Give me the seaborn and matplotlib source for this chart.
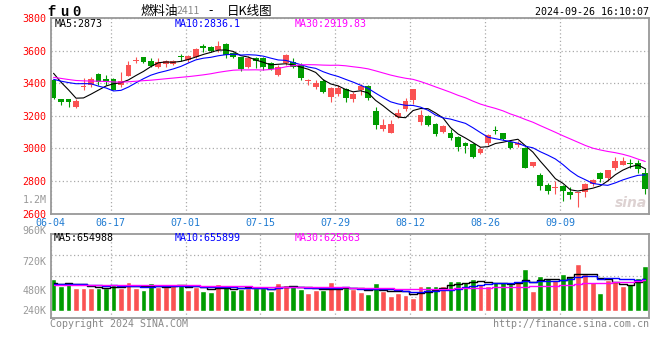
import numpy as np
import pandas as pd
import matplotlib
matplotlib.use("Agg")
import matplotlib.pyplot as plt
import seaborn as sns

# trading days 2024-06-04 .. 2024-09-26 (exchange holidays removed)
holidays = ["2024-06-10", "2024-09-16", "2024-09-17"]
days = pd.bdate_range("2024-06-04", "2024-09-26")
days = days[~days.isin(pd.to_datetime(holidays))]
tick_dates = ["06-04", "06-17", "07-01", "07-15", "07-29", "08-12", "08-26", "09-09"]

open_ = [3421, 3305, 3305, 3256, 3380, 3391, 3458, 3425, 3425, 3391,
         3448, 3540, 3560, 3537, 3503, 3519, 3519, 3570, 3544, 3564,
         3632, 3623, 3605, 3643, 3585, 3560, 3503, 3554, 3554, 3523,
         3452, 3523, 3533, 3513, 3413, 3376, 3417, 3317, 3333, 3364,
         3303, 3360, 3382, 3229, 3119, 3096, 3194, 3241, 3297, 3160,
         3199, 3149, 3102, 3096, 3068, 3035, 3027, 2974, 3031, 3116,
         3092, 3041, 3021, 3004, 2894, 2837, 2776, 2757, 2766, 2735,
         2725, 2735, 2780, 2851, 2817, 2878, 2898, 2911, 2913, 2851]
close = [3309, 3285, 3283, 3290, 3385, 3425, 3411, 3407, 3360, 3415,
         3513, 3546, 3533, 3509, 3533, 3537, 3537, 3560, 3568, 3609,
         3615, 3601, 3629, 3572, 3564, 3486, 3558, 3537, 3503, 3486,
         3503, 3574, 3503, 3435, 3419, 3405, 3350, 3374, 3374, 3309,
         3333, 3383, 3309, 3143, 3143, 3149, 3219, 3290, 3364, 3205,
         3143, 3088, 3137, 3066, 3011, 3017, 2949, 2994, 3082, 3110,
         3055, 3000, 3035, 2882, 2915, 2772, 2741, 2760, 2741, 2714,
         2735, 2782, 2806, 2812, 2868, 2923, 2923, 2908, 2872, 2749]
high = [3425, 3305, 3305, 3305, 3430, 3437, 3462, 3452, 3431, 3472,
        3538, 3564, 3564, 3554, 3558, 3544, 3544, 3578, 3574, 3615,
        3642, 3629, 3660, 3648, 3595, 3564, 3570, 3560, 3564, 3529,
        3513, 3580, 3554, 3523, 3427, 3421, 3425, 3380, 3391, 3370,
        3348, 3395, 3388, 3252, 3178, 3174, 3245, 3307, 3368, 3235,
        3205, 3158, 3143, 3119, 3076, 3041, 3035, 3007, 3088, 3137,
        3096, 3047, 3047, 3011, 2919, 2851, 2790, 2800, 2776, 2761,
        2735, 2786, 2813, 2855, 2868, 2945, 2945, 2933, 2929, 2878]
low = [3305, 3268, 3252, 3248, 3362, 3380, 3390, 3390, 3358, 3380,
       3448, 3523, 3523, 3503, 3497, 3499, 3513, 3537, 3533, 3554,
       3595, 3595, 3595, 3558, 3554, 3476, 3497, 3493, 3482, 3482,
       3448, 3513, 3497, 3421, 3391, 3366, 3339, 3288, 3325, 3288,
       3286, 3329, 3298, 3119, 3107, 3096, 3190, 3231, 3276, 3143,
       3139, 3076, 3096, 3051, 2986, 2970, 2939, 2966, 3021, 3086,
       3051, 2994, 3011, 2878, 2888, 2745, 2718, 2718, 2674, 2688,
       2637, 2700, 2770, 2796, 2802, 2868, 2898, 2878, 2847, 2718]
# volume in thousands of lots
volume = [655, 516, 579, 475, 475, 462, 475, 475, 531, 475,
          599, 475, 434, 579, 483, 483, 558, 531, 434, 496,
          407, 393, 558, 496, 427, 455, 475, 475, 468, 407,
          579, 531, 510, 455, 372, 427, 427, 599, 461, 461,
          441, 386, 345, 571, 406, 310, 372, 324, 261, 510,
          510, 510, 510, 612, 612, 592, 654, 551, 516, 592,
          592, 551, 592, 860, 413, 716, 675, 634, 757, 716,
          964, 757, 592, 365, 634, 612, 510, 551, 675, 923]
# estimated closes / volumes before 06-04 (only feed the moving averages at the left edge)
prior_close = [3480, 3490, 3468, 3452, 3460, 3445, 3458, 3447, 3440, 3452,
               3446, 3430, 3418, 3405, 3398, 3410, 3425, 3440, 3452, 3445,
               3400, 3370, 3360, 3380, 3430, 3560, 3518, 3545, 3378]
prior_volume = [520, 540, 495, 510, 530, 505, 488, 525, 515, 500,
                540, 512, 498, 530, 505, 520, 510, 535, 492, 520,
                560, 525, 548, 530, 542, 585, 540, 520, 555]

title_parts = ["燃料油", "2411", "-", "日K线图"]
symbol = "fu0"
price_ma_text = ["MA5:2873", "MA10:2836.1", "MA30:2919.83"]
vol_ma_text = ["MA5:654988", "MA10:655899", "MA30:625663"]
price_ticks = [2600, 2800, 3000, 3200, 3400, 3600, 3800]
vol_labels = ["1.2M", "960K", "720K", "480K", "240K"]

RED = "#fa5252"
GREEN = "#009c00"
BLUE = "#1f7bd2"
GRID = "#aaaaaa"
FRAME = "#999999"
MA_COLORS = ["black", "#0000ff", "#ff00ff"]

sns.set_theme(style="white")
plt.rcParams["font.family"] = ["DejaVu Sans Mono", "Noto Sans CJK SC"]

o = np.array(open_, float)
c = np.array(close, float)
n = len(c)
x = np.arange(n)
up = c >= o
colors = np.where(up, RED, GREEN)

all_close = pd.Series(prior_close + close, dtype=float)
all_vol = pd.Series(prior_volume + volume, dtype=float)
price_ma = [all_close.rolling(w).mean().to_numpy()[-n:] for w in (5, 10, 30)]
vol_ma = [all_vol.rolling(w).mean().to_numpy()[-n:] for w in (5, 10, 30)]

fig = plt.figure(figsize=(6.6, 3.6), dpi=100)
ax1 = fig.add_axes([50.7 / 660, 1 - 213.5 / 360, 598.3 / 660, 195.2 / 360])
ax2 = fig.add_axes([50.7 / 660, 1 - 317.7 / 360, 598.3 / 660, 83.4 / 360])

# candles
ax1.vlines(x, low, high, colors=colors, lw=0.8, zorder=2)
diff = np.abs(c - o)
bottom = np.where(diff < 6, (o + c) / 2 - 3, np.minimum(o, c))
ax1.bar(x, np.maximum(diff, 6), bottom=bottom, width=0.78, color=colors, lw=0, zorder=2)
for ma, col in zip(price_ma, MA_COLORS):
    sns.lineplot(x=x, y=ma, ax=ax1, color=col, lw=0.8, estimator=None, zorder=3)

# volume
vdf = pd.DataFrame({"x": x, "vol": volume, "dir": np.where(up, "up", "down")})
sns.barplot(data=vdf, x="x", y="vol", hue="dir", palette={"up": RED, "down": GREEN},
            dodge=False, width=0.78, saturation=1, errorbar=None, legend=False, ax=ax2)
for ma, col in zip(vol_ma, MA_COLORS):
    sns.lineplot(x=x, y=ma, ax=ax2, color=col, lw=1.0, estimator=None,
                 drawstyle="steps-mid", zorder=3)

day_labels = [d.strftime("%m-%d") for d in days]
tick_pos = [day_labels.index(d) - 0.38 for d in tick_dates]

for ax in (ax1, ax2):
    ax.set_xlim(-0.38, 79.5)
    ax.set_xticks(tick_pos)
    ax.grid(True, color=GRID, linestyle=(0, (1, 2)), lw=0.9)
    ax.set_axisbelow(True)
    ax.set_xlabel("")
    ax.set_ylabel("")
    for s in ax.spines.values():
        s.set_color(FRAME)
        s.set_linewidth(1.3)

ax1.set_ylim(2600, 3800)
ax1.set_yticks(price_ticks)
ax1.set_yticklabels([str(t) for t in price_ticks])
ax1.set_xticklabels(tick_dates)
ax1.tick_params(axis="y", length=0, pad=3, labelsize=7.2, labelcolor="#ff0000")
ax1.tick_params(axis="x", length=0, pad=3, labelsize=7.2, labelcolor=BLUE)

vlo, vhi = -144, 1574
ax2.set_ylim(vlo, vhi)
ax2.set_yticks(np.linspace(vlo, vhi, 5)[1:-1])
ax2.set_yticklabels([])
ax2.set_xticklabels([])
ax2.tick_params(length=0)
for lab, fy in zip(vol_labels, [1.41, 1.04, 0.668, 0.32, 0.08]):
    ax2.text(-0.007, fy, lab, transform=ax2.transAxes, ha="right", va="center",
             fontsize=7.2, color="#999999", clip_on=False)

for txt, fx, col in zip(price_ma_text, [0.0072, 0.2078, 0.4083], MA_COLORS):
    ax1.text(fx, 0.97, txt, transform=ax1.transAxes, ha="left", va="center",
             fontsize=7.2, color=col)
for txt, fx, col in zip(vol_ma_text, [0.0055, 0.2078, 0.4083], MA_COLORS):
    ax2.text(fx, 0.952, txt, transform=ax2.transAxes, ha="left", va="center",
             fontsize=7.2, color=col)

# header
for ch, px in zip(symbol, [51.5, 64.5, 76.5]):
    fig.text(px / 660, 1 - 11.5 / 360, ch, fontsize=10, fontweight="bold",
             family="Liberation Mono", ha="center", va="center", color="black")
fig.text(140 / 660, 1 - 11 / 360, title_parts[0], fontsize=9, ha="left", va="center",
         family="Noto Sans CJK SC", color="black")
fig.text(177 / 660, 1 - 11 / 360, title_parts[1], fontsize=7.5, ha="left", va="center",
         family="Noto Sans CJK SC", color="#888888")
fig.text(208 / 660, 1 - 11 / 360, title_parts[2], fontsize=9, ha="left", va="center",
         family="Noto Sans CJK SC", color="black")
fig.text(227 / 660, 1 - 11 / 360, title_parts[3], fontsize=9, ha="left", va="center",
         family="Noto Sans CJK SC", color="black")
fig.text(649 / 660, 1 - 12 / 360, "2024-09-26 16:10:07", fontsize=7.2, ha="right",
         va="center", color="black")

# footer and watermark
fig.text(50 / 660, 1 - 323.7 / 360, "Copyright 2024 SINA.COM", fontsize=7.2,
         ha="left", va="center", color="#888888")
fig.text(649 / 660, 1 - 323.7 / 360, "http://finance.sina.com.cn", fontsize=7.2,
         ha="right", va="center", color="#888888")
fig.text(647 / 660, 1 - 203 / 360, "sina", fontsize=10, fontweight="bold",
         style="italic", family="DejaVu Sans", ha="right", va="center", color="#ddd2d2")

fig.savefig("out.png", dpi=100)
